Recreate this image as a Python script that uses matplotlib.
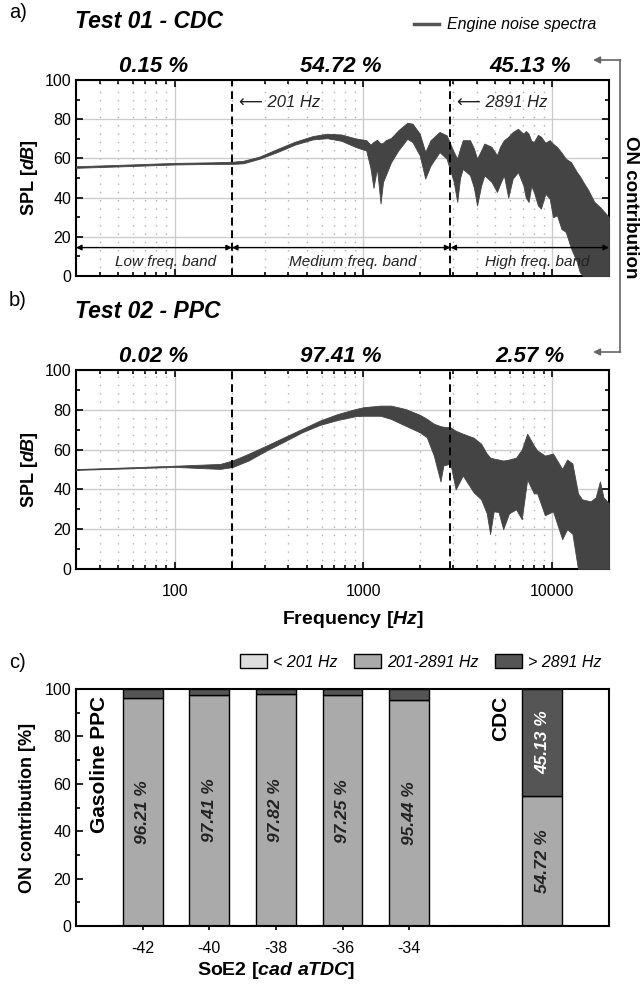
import numpy as np
import matplotlib
matplotlib.use("Agg")
import matplotlib.pyplot as plt
from matplotlib.lines import Line2D
from matplotlib.patches import Patch, FancyArrowPatch
from matplotlib.ticker import LogLocator, MultipleLocator, NullFormatter, FuncFormatter

plt.rcParams['font.family'] = ['Liberation Sans', 'DejaVu Sans']
plt.rcParams['mathtext.fontset'] = 'custom'
plt.rcParams['mathtext.it'] = 'Liberation Sans:italic:bold'
plt.rcParams['mathtext.rm'] = 'Liberation Sans:bold'
plt.rcParams['mathtext.bf'] = 'Liberation Sans:bold'

# ---------------- data ----------------
band_edges = [30, 201, 2891, 20000]
band_names = ["Low freq. band", "Medium freq. band", "High freq. band"]

# Test 01 - CDC : envelope of the noise spectra
freq_a = [30, 54, 100, 159, 202, 231, 281, 349, 433, 539, 642, 764, 910, 1035,
          1090, 1130, 1180, 1232, 1270, 1313, 1400, 1528, 1706, 1820, 1988, 2125,
          2268, 2530, 2760, 3010, 3140, 3250, 3360, 3670, 3850, 4000, 4200, 4370,
          4770, 5100, 5300, 5550, 5850, 6180, 6590, 7030, 7250, 7500, 7750, 8000,
          8400, 8720, 9200, 9700, 10100, 10600, 11200, 11800, 12600, 13500, 14000,
          14600, 15500, 16700, 18000, 20000]
upper_a = [56.0, 56.8, 57.7, 58.0, 58.3, 58.8, 60.9, 64.8, 68.5, 71.4, 72.6, 72.2,
           70.2, 69.3, 67.0, 68.4, 69.5, 67.6, 68.0, 69.3, 70.4, 74.3, 78.2, 77.7,
           72.6, 63.3, 69.3, 73.5, 71.8, 63.3, 59.9, 65.0, 69.3, 69.3, 65.0, 59.9,
           64.0, 67.6, 65.9, 61.6, 66.0, 69.3, 71.0, 73.5, 75.1, 72.6, 74.0, 72.6,
           69.0, 68.4, 72.0, 71.1, 68.0, 69.3, 67.5, 65.9, 63.0, 59.9, 58.0, 53.1,
           51.0, 48.0, 44.0, 37.9, 35.0, 30.0]
lower_a = [55.2, 56.0, 56.9, 57.2, 57.2, 57.5, 59.8, 63.2, 67.0, 69.7, 70.3, 69.0,
           65.8, 64.0, 55.0, 45.0, 55.0, 37.0, 48.0, 51.4, 58.0, 64.0, 70.0, 68.3,
           61.5, 49.7, 56.4, 63.2, 59.8, 48.0, 37.8, 50.0, 54.7, 51.4, 45.0, 36.0,
           46.0, 51.4, 48.0, 42.9, 47.0, 51.4, 40.0, 49.7, 53.0, 46.3, 40.0, 37.8,
           46.0, 42.9, 36.0, 34.4, 42.0, 39.5, 30.0, 31.0, 24.0, 22.5, 14.0, 7.3,
           2.0, 0.0, 0.0, 0.0, 0.0, 0.0]

# Test 02 - PPC
freq_b = [30, 54, 100, 174, 202, 246, 306, 380, 473, 588, 731, 909, 1000, 1232,
          1400, 1670, 1988, 2166, 2360, 2560, 2650, 2890, 3080, 3360, 3830, 4200,
          4500, 4690, 4900, 5200, 5500, 5910, 6440, 6900, 7370, 8000, 8330, 9150,
          10100, 11300, 12000, 12800, 13700, 14400, 15970, 17000, 17900, 18700, 20000]
upper_b = [50.2, 51.0, 51.9, 52.8, 54.5, 57.9, 62.0, 66.2, 70.4, 74.6, 77.9, 80.4,
           81.3, 82.1, 82.1, 80.4, 77.5, 75.5, 73.0, 71.8, 71.5, 71.2, 69.5, 68.0,
           66.0, 63.0, 58.0, 56.0, 55.5, 55.0, 54.5, 55.0, 56.0, 60.0, 68.0, 62.0,
           59.6, 57.0, 58.0, 50.3, 55.0, 53.0, 38.0, 35.0, 34.0, 36.0, 44.0, 36.0, 33.0]
lower_b = [49.8, 50.5, 51.3, 50.3, 51.2, 54.5, 59.5, 64.0, 68.7, 72.4, 74.9, 76.8,
           77.0, 77.0, 75.4, 72.0, 68.7, 66.2, 57.0, 44.0, 52.0, 53.0, 40.0, 47.0,
           38.6, 35.0, 28.0, 17.6, 29.0, 28.6, 20.0, 28.0, 30.0, 25.0, 45.0, 38.0,
           38.0, 27.0, 29.0, 15.0, 20.0, 17.7, 0.0, 0.0, 0.0, 0.0, 0.0, 0.0, 0.0]

pct_a = ["0.15 %", "54.72 %", "45.13 %"]
pct_b = ["0.02 %", "97.41 %", "2.57 %"]

# c) ON contribution per SoE2
soe_labels = ["-42", "-40", "-38", "-36", "-34"]
low_c = [0.03, 0.02, 0.02, 0.02, 0.03, 0.0, 0.15]
mid_c = [96.21, 97.41, 97.82, 97.25, 95.44, 0.0, 54.72]
high_c = [3.76, 2.57, 2.16, 2.73, 4.53, 0.0, 45.13]

C_SPEC = '#444444'
C_LOW, C_MID, C_HIGH = '#dddddd', '#aaaaaa', '#555555'

fig = plt.figure(figsize=(6.4, 9.85), dpi=100)
W, H = 640.0, 985.0

def px(l, t, r, b):
    return [l / W, 1 - b / H, (r - l) / W, (b - t) / H]

ax_a = fig.add_axes(px(76, 80, 609, 276))
ax_b = fig.add_axes(px(76, 370, 609, 569))
ax_c = fig.add_axes(px(76, 689, 609, 926))


def spectrum_axes(ax, f, up, lo, pct, labels):
    ax.fill_between(f, lo, up, color=C_SPEC, lw=0.6, edgecolor=C_SPEC, zorder=3)
    ax.set_xscale('log')
    ax.set_xlim(band_edges[0], band_edges[-1])
    ax.set_ylim(0, 100)
    ax.xaxis.set_major_locator(LogLocator(base=10))
    ax.xaxis.set_minor_locator(LogLocator(base=10, subs=np.arange(2, 10)))
    ax.xaxis.set_minor_formatter(NullFormatter())
    if labels:
        ax.xaxis.set_major_formatter(FuncFormatter(lambda v, p: f'{v:g}'))
    else:
        ax.xaxis.set_major_formatter(NullFormatter())
    ax.yaxis.set_major_locator(MultipleLocator(20))
    ax.yaxis.set_minor_locator(MultipleLocator(10))
    ax.tick_params(which='both', direction='in', top=True, right=True,
                   labelsize=11.5, width=1.2)
    ax.tick_params(axis='x', pad=10.5)
    ax.tick_params(which='major', length=5)
    ax.tick_params(which='minor', length=3)
    ax.grid(which='major', color='#cccccc', lw=1, zorder=0)
    ax.grid(which='minor', axis='x', color='#b0b0b0', ls=(0, (1, 5)), lw=1, zorder=0)
    ax.set_axisbelow(True)
    for s in ax.spines.values():
        s.set_linewidth(1.5)
    for fc in band_edges[1:-1]:
        ax.axvline(fc, color='k', ls=(0, (4, 2.5)), lw=1.4, zorder=4)
    for i, t in enumerate(pct):
        fmid = np.sqrt(band_edges[i] * band_edges[i + 1])
        ax.annotate(t, (fmid, 1), xycoords=('data', 'axes fraction'),
                    xytext=(0, 5.5), textcoords='offset points', ha='center',
                    va='baseline', fontsize=16, fontweight='bold', style='italic')
    ax.set_ylabel('SPL [$\\it{dB}$]', fontsize=13, fontweight='bold')
    ax.yaxis.set_label_coords(-0.068, 0.5)


spectrum_axes(ax_a, freq_a, upper_a, lower_a, pct_a, False)
spectrum_axes(ax_b, freq_b, upper_b, lower_b, pct_b, True)
ax_b.set_xlabel('Frequency [$\\it{Hz}$]', fontsize=14, fontweight='bold', labelpad=7)
ax_b.xaxis.set_label_coords(0.52, -0.2)

# band arrows and cut-off annotations in a)
band_text_x = [90, 880, 8300]
for i in range(3):
    ax_a.annotate('', xy=(band_edges[i], 14.5), xytext=(band_edges[i + 1], 14.5),
                  arrowprops=dict(arrowstyle='<|-|>', color='k', lw=1,
                                  shrinkA=0, shrinkB=0, mutation_scale=8), zorder=5)
    ax_a.text(band_text_x[i], 7, band_names[i], ha='center', va='center',
              fontsize=11, style='italic', color='#222222', zorder=5)
for fc, x in zip(band_edges[1:-1], [218, 3150]):
    ax_a.text(x, 88.5, '\u27f5 %d Hz' % fc, ha='left', va='center',
              fontsize=12, style='italic', color='#222222', zorder=5)

# titles / panel letters
fig.text(9 / W, 1 - 13 / H, 'a)', fontsize=14.5, va='center')
fig.text(75 / W, 1 - 21 / H, 'Test 01 - CDC', fontsize=16.5, fontweight='bold',
         style='italic', va='center')
fig.text(9 / W, 1 - 301 / H, 'b)', fontsize=14.5, va='center')
fig.text(75 / W, 1 - 312 / H, 'Test 02 - PPC', fontsize=16.5, fontweight='bold',
         style='italic', va='center')
fig.text(9 / W, 1 - 662 / H, 'c)', fontsize=14.5, va='center')

fig.legend(handles=[Line2D([], [], color='#555555', lw=2.5)],
           labels=['Engine noise spectra'], loc='upper right',
           bbox_to_anchor=(611 / W, 1 - 3 / H), frameon=False,
           prop=dict(size=11.5, style='italic'), handlelength=1.6, handletextpad=0.5)

# right bracket "ON contribution"
gray = '#666666'
fig.add_artist(Line2D([620 / W, 620 / W], [1 - 60 / H, 1 - 352 / H],
                      color=gray, lw=1.2, transform=fig.transFigure))
for yy in (60, 352):
    fig.add_artist(FancyArrowPatch(
        (620.5 / W, 1 - yy / H), (593 / W, 1 - yy / H), transform=fig.transFigure,
        arrowstyle='-|>', mutation_scale=10, color=gray, lw=1.2, shrinkA=0, shrinkB=0))
fig.text(631 / W, 1 - 207 / H, 'ON contribution', rotation=270, fontsize=13.5,
         fontweight='bold', ha='center', va='center')

# ---------------- c) stacked bars ----------------
pos = np.arange(len(mid_c))
low_c = np.array(low_c)
mid_c = np.array(mid_c)
high_c = np.array(high_c)
ax_c.bar(pos, low_c, width=0.78, color=C_LOW, edgecolor='k', lw=1.5, zorder=3)
has = mid_c > 0
ax_c.bar(pos[has], mid_c[has], bottom=low_c[has], width=0.6, color=C_MID,
         edgecolor='k', lw=1, zorder=2)
ax_c.bar(pos[has], high_c[has], bottom=(low_c + mid_c)[has], width=0.6,
         color=C_HIGH, edgecolor='k', lw=1, zorder=2)
for p, lo, m, hi in zip(pos, low_c, mid_c, high_c):
    if m > 0:
        ax_c.text(p, lo + m / 2, '%.2f %%' % m, rotation=90, ha='center', va='center',
                  fontsize=12.5, fontweight='bold', style='italic', color='#222222', zorder=5)
    if hi > 10:
        ax_c.text(p, lo + m + hi / 2, '%.2f %%' % hi, rotation=90, ha='center',
                  va='center', fontsize=12.5, fontweight='bold', style='italic',
                  color='white', zorder=5)

ax_c.set_xlim(-1, 7)
ax_c.set_ylim(0, 100)
ax_c.set_xticks(pos[:len(soe_labels)])
ax_c.set_xticklabels(soe_labels)
ax_c.yaxis.set_major_locator(MultipleLocator(20))
ax_c.yaxis.set_minor_locator(MultipleLocator(10))
ax_c.tick_params(axis='y', which='both', direction='in', labelsize=11.5, width=1.2)
ax_c.tick_params(axis='y', which='major', length=5)
ax_c.tick_params(axis='y', which='minor', length=3)
ax_c.tick_params(axis='x', direction='out', length=3, labelsize=11.5, width=1.2, pad=8)
for s in ax_c.spines.values():
    s.set_linewidth(1.5)
ax_c.set_ylabel('ON contribution [%]', fontsize=13, fontweight='bold')
ax_c.yaxis.set_label_coords(-0.075, 0.5)
ax_c.set_xlabel('SoE2 [$\\it{cad\\ aTDC}$]', fontsize=14, fontweight='bold', labelpad=6)
ax_c.xaxis.set_label_coords(3 / 8, -0.145)
ax_c.text(-0.65, 97, 'Gasoline PPC', rotation=90, ha='center', va='top',
          fontsize=15, fontweight='bold')
ax_c.text(5.38, 97, 'CDC', rotation=90, ha='center', va='top',
          fontsize=15, fontweight='bold')

fig.legend(handles=[Patch(facecolor=c, edgecolor='k', lw=1) for c in (C_LOW, C_MID, C_HIGH)],
           labels=['< 201 Hz', '201-2891 Hz', '> 2891 Hz'], loc='lower right',
           bbox_to_anchor=(616 / W, 1 - 684 / H), ncol=3, frameon=False,
           prop=dict(size=11.5, style='italic'), handlelength=1.7, handleheight=1.0,
           columnspacing=1.0, handletextpad=0.4)

fig.savefig('out.png', dpi=100)
